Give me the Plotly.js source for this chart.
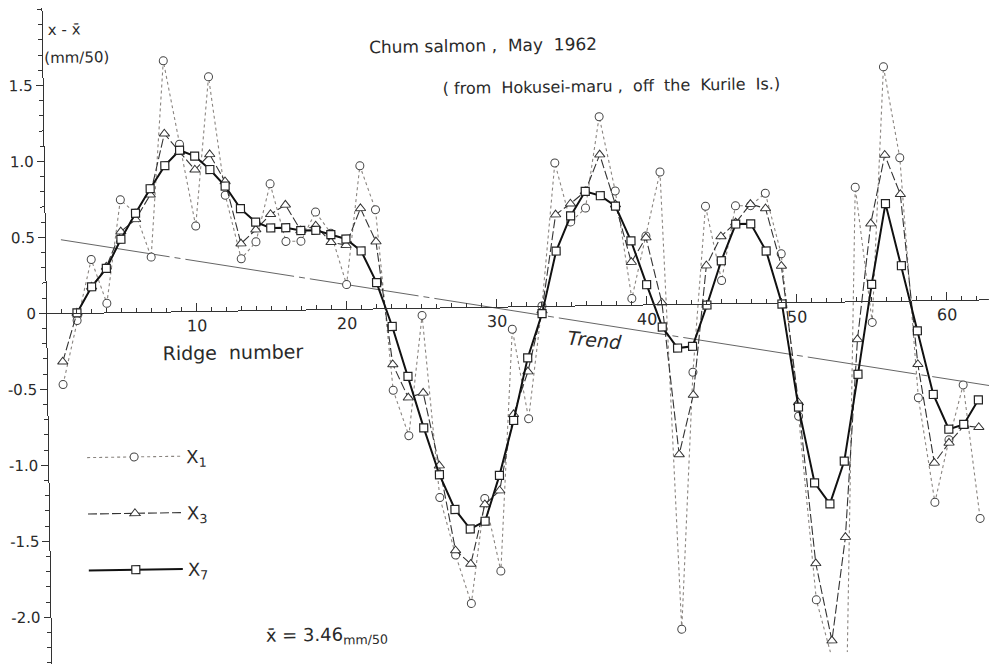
<!DOCTYPE html>
<html><head><meta charset="utf-8">
<script src="https://cdn.plot.ly/plotly-3.0.1.min.js"></script>
<style>
html,body{margin:0;padding:0;background:#fff;overflow:hidden;}
#chart{width:989px;height:664px;transform:rotate(-0.85deg);transform-origin:46.7px 313.3px;}
</style></head><body><div id="chart"></div>
<script>
// Ridge numbers
const ridge = [1,2,3,4,5,6,7,8,9,10,11,12,13,14,15,16,17,18,19,20,21,22,23,24,25,26,27,28,29,30,31,32,33,34,35,36,37,38,39,40,41,42,43,44,45,46,47,48,49,50,51,52,53,54,55,56,57,58,59,60,61,62];
// X1 : raw deviations (dotted, circles)
const x1 = [-0.47,-0.05,0.35,0.06,0.74,0.65,0.36,1.65,1.10,0.56,1.54,0.76,0.34,0.45,0.83,0.45,0.45,0.64,0.50,0.16,0.94,0.65,-0.54,-0.84,-0.05,-1.25,-1.63,-1.95,-1.26,-1.74,-0.15,-0.74,0.00,0.94,0.55,0.64,1.24,0.75,0.04,0.45,0.87,-2.14,-0.45,0.64,0.15,0.64,0.64,0.72,0.32,-0.75,-1.96,-2.35,-2.35,0.75,-0.14,1.54,0.94,-0.64,-1.33,-0.92,-0.56,-1.44];
// X3 : 3-point smoothing (dashed, triangles)
const x3 = [-0.32,0.00,0.17,0.30,0.53,0.61,0.77,1.17,1.05,0.93,1.03,0.85,0.44,0.53,0.63,0.69,0.52,0.55,0.44,0.42,0.66,0.44,-0.37,-0.59,-0.56,-1.04,-1.60,-1.69,-1.30,-1.21,-0.71,-0.43,-0.03,0.60,0.67,0.75,0.99,0.66,0.28,0.44,0.01,-0.99,-0.60,0.25,0.44,0.53,0.65,0.62,0.24,-0.66,-1.72,-2.23,-1.55,-0.25,0.51,0.96,0.70,-0.42,-1.07,-0.94,-0.83,-0.84];
// X7 : 7-point smoothing (solid, squares)
const x7 = [null,0.00,0.17,0.29,0.48,0.65,0.81,0.96,1.06,1.02,0.93,0.82,0.67,0.58,0.54,0.54,0.52,0.52,0.49,0.46,0.38,0.17,-0.12,-0.45,-0.79,-1.10,-1.33,-1.46,-1.41,-1.11,-0.75,-0.34,-0.05,0.36,0.59,0.75,0.72,0.65,0.42,0.13,-0.15,-0.29,-0.28,-0.01,0.28,0.52,0.52,0.34,-0.01,-0.69,-1.19,-1.33,-1.05,-0.48,0.11,0.64,0.23,-0.20,-0.62,-0.85,-0.82,-0.66];
// Trend line end points
const trendRidge = [1, 62.8];
const trendValue = [0.483, -0.568];
// Tick labels
const yTickVals = [-2, -1.5, -1, -0.5, 0, 0.5, 1, 1.5];
const yTickText = ['-2.0','-1.5','-1.0','-0.5','0','0.5','1.0','1.5'];
const xTickVals = [10, 20, 30, 40, 50, 60];
const xTickText = ['10','20','30','40','50','60'];

const W = 989, H = 664, ML = 47, MT = 8;
const PW = W - ML, PH = H - MT;
const px = X => (X - ML) / PW;
const py = Y => 1 - (Y - MT) / PH;
const yTop = 2.009, yBot = -2.307;
const zeroPos = (0 - yBot) / (yTop - yBot);
const FONT = 'DejaVu Sans, Liberation Sans, sans-serif';
const INK = '#2a2a2a';
const SP = '\u00a0';

const traces = [
  {x: trendRidge, y: trendValue, mode: 'lines', showlegend: false, hoverinfo: 'skip',
   line: {color: '#555', width: 0.9, dash: '110px,5px,6px,5px'}},
  {x: ridge, y: x1, name: 'X<sub>1</sub>', legendgroup: 'a', mode: 'lines+markers',
   line: {color: '#8a8580', width: 1.1, dash: 'dot'},
   marker: {symbol: 'circle', size: 8, color: '#fff', line: {color: '#444', width: 1}}},
  {x: ridge, y: x3, name: 'X<sub>3</sub>', legendgroup: 'b', mode: 'lines+markers',
   line: {color: '#333', width: 1.1, dash: '9px,3px'},
   marker: {symbol: 'triangle-up', size: 9, color: '#fff', line: {color: '#333', width: 1}}},
  {x: ridge, y: x7, name: 'X<sub>7</sub>', legendgroup: 'c', mode: 'lines+markers',
   line: {color: '#111', width: 2}, connectgaps: false,
   marker: {symbol: 'square', size: 8, color: '#fff', line: {color: '#222', width: 1.2}}}
];

const ann = (text, X, Y, size, extra) => Object.assign({
  text: text, x: px(X), y: py(Y), xref: 'paper', yref: 'paper', showarrow: false,
  xanchor: 'center', yanchor: 'middle', font: {family: FONT, size: size, color: INK}
}, extra || {});

const layout = {
  width: W, height: H,
  margin: {l: ML, r: 0, t: MT, b: 0, pad: 0},
  paper_bgcolor: '#fff', plot_bgcolor: '#fff',
  font: {family: FONT, color: INK},
  xaxis: {
    range: [0, 62.8], anchor: 'free', position: zeroPos,
    showline: true, linecolor: '#333', linewidth: 1,
    ticks: 'inside', ticklen: 8, tickwidth: 1, tickcolor: '#333',
    tickmode: 'array', tickvals: xTickVals, ticktext: xTickText,
    tickfont: {family: FONT, size: 16, color: INK},
    minor: {tickmode: 'linear', tick0: 0, dtick: 1, ticks: 'inside', ticklen: 4, tickcolor: '#333', tickwidth: 1},
    showgrid: false, zeroline: false, fixedrange: true
  },
  yaxis: {
    range: [yBot, yTop],
    showline: true, linecolor: '#333', linewidth: 1,
    ticks: 'outside', ticklen: 7, tickwidth: 1, tickcolor: '#333',
    tickmode: 'array', tickvals: yTickVals, ticktext: yTickText,
    tickfont: {family: FONT, size: 15, color: INK},
    minor: {tickmode: 'linear', tick0: 0, dtick: 0.1, ticks: 'outside', ticklen: 4, tickcolor: '#333', tickwidth: 1},
    showgrid: false, zeroline: false, fixedrange: true
  },
  legend: {
    x: px(80), y: py(440), xanchor: 'left', yanchor: 'top',
    font: {family: FONT, size: 18, color: INK},
    itemwidth: 94, tracegroupgap: 30, bgcolor: 'rgba(0,0,0,0)'
  },
  annotations: [
    ann('Chum salmon ,  May  1962', 487, 52, 17),
    ann('(' + SP + 'from' + SP + SP + 'Hokusei-maru' + SP + ',' + SP + SP + 'off' + SP + SP + 'the' + SP + SP + 'Kurile' + SP + SP + 'Is.)', 614, 95, 16),
    ann('x - x\u0304', 68, 30, 15),
    ann('(mm/50)', 80, 58, 15),
    ann('Ridge' + SP + SP + 'number', 232, 355, 19),
    ann('<i>Trend</i>', 594, 348, 19, {textangle: 6}),
    ann('x\u0304 = 3.46<sub>mm/50</sub>', 322, 640, 18)
  ],
  showlegend: true
};

Plotly.newPlot('chart', traces, layout, {displayModeBar: false, staticPlot: true});
</script></body></html>
